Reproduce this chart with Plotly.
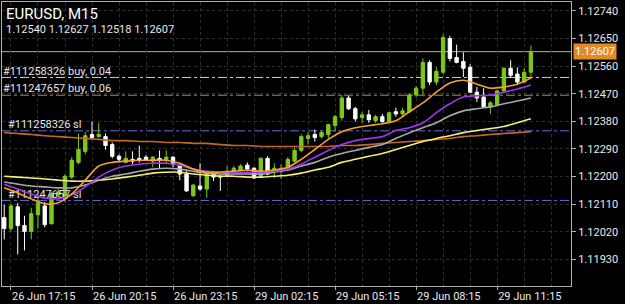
import plotly.graph_objects as go

# ---------------- data ----------------
symbol_title = "EURUSD, M15"
ohlc_text = "1.12540 1.12627 1.12518 1.12607"

x_tick_idx = [0, 12, 24, 36, 48, 60, 72]
x_tick_labels = ["26 Jun 17:15", "26 Jun 20:15", "26 Jun 23:15", "29 Jun 02:15",
                 "29 Jun 05:15", "29 Jun 08:15", "29 Jun 11:15"]

y_ticks = [1.11930, 1.12020, 1.12110, 1.12200, 1.12290, 1.12380, 1.12470,
           1.12560, 1.12650, 1.12740]

opens = [1.12066, 1.12030, 1.12101, 1.12040, 1.12021, 1.12075, 1.12104, 1.12046, 1.12140, 1.12127,
         1.12198, 1.12246, 1.12282, 1.12337, 1.12330, 1.12330, 1.12304, 1.12266, 1.12246, 1.12256,
         1.12259, 1.12263, 1.12250, 1.12259, 1.12256, 1.12263, 1.12234, 1.12208, 1.12137, 1.12169,
         1.12159, 1.12208, 1.12201, 1.12201, 1.12217, 1.12221, 1.12237, 1.12227, 1.12198, 1.12259,
         1.12217, 1.12217, 1.12227, 1.12250, 1.12285, 1.12324, 1.12337, 1.12330, 1.12337, 1.12366,
         1.12392, 1.12456, 1.12421, 1.12392, 1.12401, 1.12382, 1.12395, 1.12379, 1.12411, 1.12404,
         1.12411, 1.12466, 1.12488, 1.12572, 1.12508, 1.12540, 1.12650, 1.12588, 1.12575, 1.12556,
         1.12475, 1.12459, 1.12427, 1.12434, 1.12479, 1.12553, 1.12534, 1.12508, 1.12540]
highs = [1.12108, 1.12111, 1.12114, 1.12072, 1.12098, 1.12140, 1.12117, 1.12150, 1.12159, 1.12208,
         1.12263, 1.12340, 1.12346, 1.12379, 1.12375, 1.12340, 1.12311, 1.12272, 1.12282, 1.12282,
         1.12301, 1.12269, 1.12266, 1.12285, 1.12285, 1.12266, 1.12240, 1.12217, 1.12175, 1.12243,
         1.12217, 1.12214, 1.12204, 1.12234, 1.12234, 1.12240, 1.12246, 1.12230, 1.12263, 1.12266,
         1.12243, 1.12240, 1.12263, 1.12295, 1.12337, 1.12346, 1.12353, 1.12350, 1.12372, 1.12401,
         1.12466, 1.12463, 1.12427, 1.12411, 1.12417, 1.12401, 1.12404, 1.12408, 1.12424, 1.12424,
         1.12472, 1.12495, 1.12585, 1.12579, 1.12556, 1.12663, 1.12659, 1.12630, 1.12605, 1.12566,
         1.12492, 1.12488, 1.12446, 1.12482, 1.12556, 1.12579, 1.12556, 1.12553, 1.12627]
lows = [1.11995, 1.12021, 1.11946, 1.11959, 1.11995, 1.12030, 1.12034, 1.12043, 1.12127, 1.12117,
        1.12192, 1.12240, 1.12272, 1.12321, 1.12327, 1.12288, 1.12259, 1.12246, 1.12243, 1.12240,
        1.12246, 1.12250, 1.12230, 1.12227, 1.12240, 1.12230, 1.12188, 1.12150, 1.12134, 1.12153,
        1.12130, 1.12185, 1.12153, 1.12198, 1.12214, 1.12217, 1.12217, 1.12192, 1.12195, 1.12204,
        1.12195, 1.12192, 1.12217, 1.12246, 1.12279, 1.12304, 1.12314, 1.12324, 1.12321, 1.12346,
        1.12382, 1.12417, 1.12379, 1.12375, 1.12375, 1.12375, 1.12375, 1.12375, 1.12395, 1.12395,
        1.12408, 1.12459, 1.12466, 1.12498, 1.12498, 1.12534, 1.12575, 1.12569, 1.12524, 1.12472,
        1.12443, 1.12424, 1.12404, 1.12430, 1.12475, 1.12521, 1.12501, 1.12504, 1.12518]
closes = [1.12030, 1.12104, 1.12040, 1.12021, 1.12079, 1.12114, 1.12043, 1.12143, 1.12150, 1.12201,
          1.12253, 1.12288, 1.12333, 1.12327, 1.12337, 1.12301, 1.12266, 1.12256, 1.12259, 1.12250,
          1.12253, 1.12253, 1.12263, 1.12253, 1.12263, 1.12240, 1.12208, 1.12153, 1.12172, 1.12159,
          1.12214, 1.12198, 1.12198, 1.12217, 1.12227, 1.12234, 1.12224, 1.12195, 1.12259, 1.12208,
          1.12227, 1.12227, 1.12256, 1.12285, 1.12330, 1.12333, 1.12327, 1.12343, 1.12369, 1.12395,
          1.12456, 1.12421, 1.12388, 1.12401, 1.12385, 1.12395, 1.12379, 1.12408, 1.12404, 1.12414,
          1.12466, 1.12488, 1.12572, 1.12508, 1.12543, 1.12653, 1.12585, 1.12572, 1.12553, 1.12475,
          1.12456, 1.12427, 1.12440, 1.12479, 1.12553, 1.12530, 1.12508, 1.12540, 1.12607]

ma_idx = list(range(-1, 78, 2))
ma_orange = [1.12163, 1.12146, 1.12127, 1.12111, 1.12114, 1.12143, 1.12188, 1.12234, 1.12246, 1.12250,
             1.12253, 1.12253, 1.12253, 1.12243, 1.12224, 1.12214, 1.12214, 1.12217, 1.12221, 1.12217,
             1.12221, 1.12230, 1.12256, 1.12288, 1.12321, 1.12346, 1.12359, 1.12366, 1.12372, 1.12382,
             1.12411, 1.12440, 1.12475, 1.12505, 1.12514, 1.12501, 1.12488, 1.12492, 1.12501, 1.12521]
ma_purple = [1.12175, 1.12159, 1.12143, 1.12130, 1.12127, 1.12140, 1.12166, 1.12198, 1.12221, 1.12234,
             1.12240, 1.12243, 1.12243, 1.12237, 1.12224, 1.12217, 1.12214, 1.12214, 1.12214, 1.12214,
             1.12217, 1.12224, 1.12240, 1.12263, 1.12285, 1.12304, 1.12317, 1.12324, 1.12330, 1.12350,
             1.12359, 1.12375, 1.12408, 1.12437, 1.12459, 1.12463, 1.12466, 1.12475, 1.12485, 1.12498]
ma_gray = [1.12182, 1.12175, 1.12169, 1.12166, 1.12163, 1.12163, 1.12172, 1.12188, 1.12201, 1.12208,
           1.12217, 1.12224, 1.12227, 1.12224, 1.12217, 1.12211, 1.12208, 1.12208, 1.12208, 1.12208,
           1.12214, 1.12221, 1.12234, 1.12246, 1.12263, 1.12275, 1.12285, 1.12295, 1.12304, 1.12324,
           1.12343, 1.12359, 1.12375, 1.12398, 1.12414, 1.12421, 1.12427, 1.12437, 1.12446, 1.12456]
ma_yellow = [1.12201, 1.12198, 1.12195, 1.12192, 1.12188, 1.12185, 1.12185, 1.12188, 1.12192, 1.12198,
             1.12204, 1.12211, 1.12214, 1.12214, 1.12208, 1.12204, 1.12201, 1.12201, 1.12198, 1.12198,
             1.12201, 1.12204, 1.12211, 1.12221, 1.12230, 1.12246, 1.12256, 1.12266, 1.12275, 1.12288,
             1.12301, 1.12314, 1.12324, 1.12333, 1.12343, 1.12350, 1.12356, 1.12363, 1.12375, 1.12388]
ma_brown = [1.12343, 1.12340, 1.12337, 1.12333, 1.12330, 1.12327, 1.12324, 1.12321, 1.12317, 1.12317,
            1.12314, 1.12314, 1.12311, 1.12311, 1.12308, 1.12308, 1.12304, 1.12301, 1.12301, 1.12298,
            1.12298, 1.12298, 1.12298, 1.12298, 1.12298, 1.12301, 1.12301, 1.12304, 1.12308, 1.12311,
            1.12314, 1.12317, 1.12321, 1.12324, 1.12330, 1.12333, 1.12337, 1.12340, 1.12343, 1.12346]

bid_price = 1.12607
order_levels = [1.12523, 1.12465, 1.12349, 1.12122]
order_labels = ["#111258326 buy, 0.04", "#111247657 buy, 0.06", "#111258326 sl", "#111247657 sl"]

# ---------------- styles ----------------
GREEN = "#7cc81e"
WHITE = "#ffffff"
order_colors = ["#d8d0c0", "#b08860", "#6a6ad8", "#6a6ad8"]
order_label_x = [-1.2, -1.2, -0.45, -0.45]

idx = list(range(-1, len(opens) - 1))

fig = go.Figure()

# order / level labels (behind candles)
for lvl, lab, lx in zip(order_levels, order_labels, order_label_x):
    fig.add_trace(go.Scatter(x=[lx], y=[lvl], mode="text", text=[lab],
                             textposition="top right",
                             textfont=dict(family="Roboto", size=11, color="#e6e6e6"),
                             hoverinfo="skip", showlegend=False, cliponaxis=False))

def wicks(sel):
    xs, ys = [], []
    for i in sel:
        xs += [idx[i], idx[i], None]
        ys += [lows[i], highs[i], None]
    return xs, ys

up = [i for i in range(len(opens)) if closes[i] >= opens[i]]
dn = [i for i in range(len(opens)) if closes[i] < opens[i]]

for sel, col in ((up, GREEN), (dn, WHITE)):
    wx, wy = wicks(sel)
    fig.add_trace(go.Scatter(x=wx, y=wy, mode="lines", line=dict(color=col, width=1),
                             hoverinfo="skip", showlegend=False))
    fig.add_trace(go.Bar(x=[idx[i] for i in sel],
                         y=[abs(closes[i] - opens[i]) for i in sel],
                         base=[min(closes[i], opens[i]) for i in sel],
                         width=0.5, marker=dict(color=col, line=dict(color=col, width=1)),
                         hoverinfo="skip", showlegend=False))

for vals, col in ((ma_brown, "#c2692a"), (ma_yellow, "#f3ef78"), (ma_gray, "#a8a8a8"),
                  (ma_purple, "#9a38f0"), (ma_orange, "#f5a030")):
    fig.add_trace(go.Scatter(x=ma_idx, y=vals, mode="lines",
                             line=dict(color=col, width=1.6, shape="spline", smoothing=0.8),
                             hoverinfo="skip", showlegend=False))

# horizontal level lines
fig.add_hline(y=bid_price, line=dict(color="#cdb088", width=1), layer="below")
for lvl, col in zip(order_levels, order_colors):
    fig.add_hline(y=lvl, line=dict(color=col, width=1, dash="dashdot"), layer="below")

# price box
fig.add_annotation(xref="paper", x=1, y=bid_price, yref="y", xanchor="left", xshift=2,
                   text=f"{bid_price:.5f}", showarrow=False, bgcolor="#e28a26",
                   font=dict(family="Roboto", size=11, color="#ffffff"), borderpad=1)

# title
fig.add_annotation(xref="paper", yref="paper", x=0.006, y=0.992, xanchor="left", yanchor="top",
                   text=symbol_title, showarrow=False, borderpad=0,
                   font=dict(family="Roboto", size=15, color="#ffffff"))
fig.add_annotation(xref="paper", yref="paper", x=0.006, y=0.928, xanchor="left", yanchor="top",
                   text=ohlc_text, showarrow=False, borderpad=0,
                   font=dict(family="Roboto", size=11, color="#e8e8e8"))

grid_col = "#2e2e2e"
fig.update_layout(
    width=625, height=304,
    margin=dict(l=1, r=54, t=1, b=16),
    paper_bgcolor="#000000", plot_bgcolor="#000000",
    barmode="overlay", showlegend=False,
    xaxis=dict(range=[-1.33, 82.94], tickmode="array", tickvals=x_tick_idx, ticktext=x_tick_labels,
               ticklabelposition="outside right", ticks="outside", ticklen=3, tickcolor="#b0b0b0",
               tickfont=dict(family="Roboto", size=11, color="#e8e8e8"),
               showline=True, mirror=True, linecolor="#b0b0b0", linewidth=1,
               showgrid=True, gridcolor=grid_col, griddash="dot", zeroline=False,
               minor=dict(dtick=4, tick0=0, showgrid=True, gridcolor=grid_col, griddash="dot")),
    yaxis=dict(range=[1.118429, 1.127690], side="right", tickmode="array", tickvals=y_ticks,
               ticktext=[f"{v:.5f}" for v in y_ticks], ticks="outside", ticklen=4,
               tickcolor="#b0b0b0", tickfont=dict(family="Roboto", size=11, color="#e8e8e8"),
               showline=True, mirror=True, linecolor="#b0b0b0", linewidth=1,
               showgrid=True, gridcolor=grid_col, griddash="dot", zeroline=False),
)

fig.write_html("out.html")
